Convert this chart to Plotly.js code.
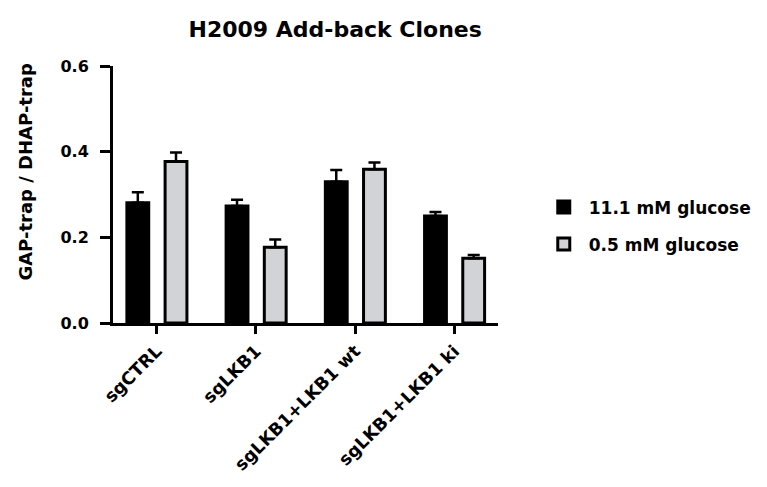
<!DOCTYPE html>
<html>
<head>
<meta charset="utf-8">
<script src="https://cdn.plot.ly/plotly-3.0.1.min.js"></script>
<style>html,body{margin:0;padding:0;background:#fff;}#chart{width:767px;height:487px;}</style>
</head>
<body>
<div id="chart"></div>
<script>
const categories = ["sgCTRL", "sgLKB1", "sgLKB1+LKB1 wt", "sgLKB1+LKB1 ki"];
const seriesNames = ["11.1 mM glucose", "0.5 mM glucose"];
const highGlucose = [0.281, 0.273, 0.330, 0.250];
const highGlucoseErr = [0.024, 0.015, 0.027, 0.009];
const lowGlucose = [0.377, 0.177, 0.359, 0.151];
const lowGlucoseErr = [0.021, 0.018, 0.016, 0.008];
const yTicks = [0, 0.2, 0.4, 0.6];

const F = "'DejaVu Sans', Verdana, sans-serif";
const zeros = categories.map(() => 0);

const traces = [
  {
    type: "bar", name: seriesNames[0], x: categories, y: highGlucose,
    width: 0.22, offset: -0.30, legendgroup: "a",
    marker: {color: "#000000", line: {color: "#000000", width: 3}},
    error_y: {type: "data", symmetric: false, array: highGlucoseErr, arrayminus: zeros,
              color: "#000000", thickness: 2.5, width: 6}
  },
  {
    type: "bar", name: seriesNames[1], x: categories, y: lowGlucose,
    width: 0.22, offset: 0.085, legendgroup: "b",
    marker: {color: "#d2d3d6", line: {color: "#000000", width: 3}},
    error_y: {type: "data", symmetric: false, array: lowGlucoseErr, arrayminus: zeros,
              color: "#000000", thickness: 2.5, width: 6}
  }
];

const layout = {
  width: 767, height: 487,
  margin: {l: 113, r: 268, t: 66, b: 164, pad: 0},
  paper_bgcolor: "#fff", plot_bgcolor: "#fff",
  font: {family: F, color: "#000", size: 15, weight: "bold"},
  title: {text: "H2009 Add-back Clones", x: 0.437, xref: "container", xanchor: "center",
          y: 0.94, yref: "container", yanchor: "middle",
          font: {family: F, size: 22, weight: "bold", color: "#000"}},
  barmode: "group",
  showlegend: true,
  legend: {x: 1.103, xanchor: "left", y: 0.52, yanchor: "top", tracegroupgap: 12,
           itemwidth: 40,
           font: {family: F, size: 17, weight: "bold", color: "#000"}, bgcolor: "rgba(0,0,0,0)"},
  xaxis: {
    type: "category", range: [-0.44, 3.44],
    showline: true, linecolor: "#000", linewidth: 3, mirror: false,
    ticks: "outside", ticklen: 8, tickwidth: 3, tickcolor: "#000",
    tickangle: -45, showgrid: false, zeroline: false,
    tickfont: {family: F, size: 17.5, weight: "bold", color: "#000"}
  },
  yaxis: {
    range: [0, 0.6], tickvals: yTicks, tickformat: ".1f",
    showline: true, linecolor: "#000", linewidth: 3,
    ticks: "outside", ticklen: 10, tickwidth: 3, tickcolor: "#000",
    ticklabelstandoff: 8,
    showgrid: false, zeroline: false,
    tickfont: {family: F, size: 16, weight: "bold", color: "#000"}
  },
  annotations: [{
    text: "GAP-trap / DHAP-trap", textangle: -90,
    xref: "paper", yref: "paper", x: -0.228, y: 0.59,
    xanchor: "center", yanchor: "middle", showarrow: false,
    font: {family: F, size: 18, weight: "bold", color: "#000"}
  }]
};

Plotly.newPlot("chart", traces, layout, {staticPlot: true, displayModeBar: false});
</script>
</body>
</html>
